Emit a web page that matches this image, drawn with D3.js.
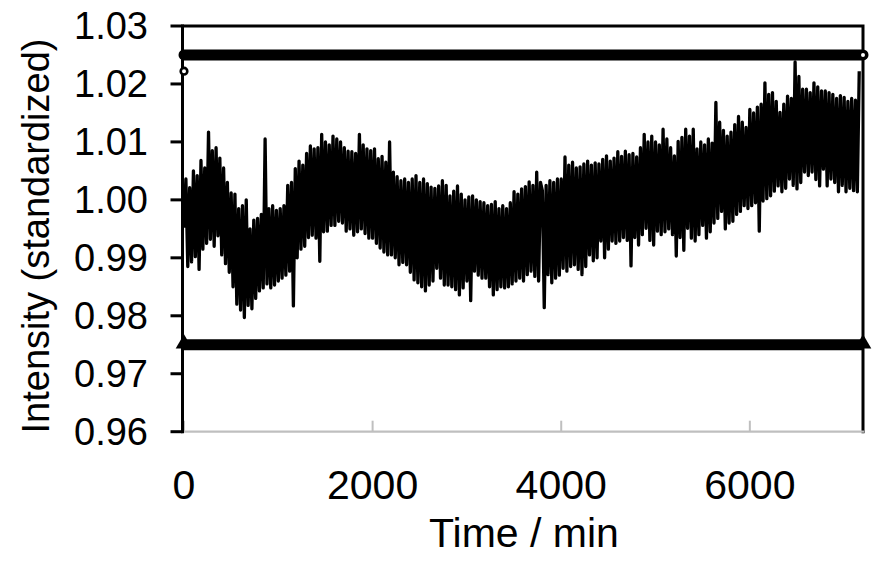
<!DOCTYPE html>
<html>
<head>
<meta charset="utf-8">
<script src="https://cdn.jsdelivr.net/npm/d3@7"></script>
<style>
	body { margin: 0; background: #fff; }
	text { font-family: "Liberation Sans", Arial, sans-serif; fill: #000; }
</style>
</head>
<body>
<svg id="chart" width="882" height="566"></svg>
<script>
// sampling of the trace (minutes)
let stepMin = 20

// standardized intensity, one value per step
let intensity = [
	0.9952, 1.0036, 0.9885, 1.0021, 0.9893, 1.0050, 0.9902, 1.0042, 0.9880, 1.0068,
	0.9915, 1.0055, 0.9925, 1.0117, 0.9932, 1.0085, 0.9920, 1.0090, 0.9938, 1.0072,
	0.9905, 1.0055, 0.9890, 1.0030, 0.9875, 1.0012, 0.9850, 1.0010, 0.9820, 0.9985,
	0.9810, 0.9990, 0.9797, 1.0000, 0.9818, 0.9950, 0.9812, 0.9965, 0.9830, 0.9968,
	0.9843, 0.9975, 0.9848, 1.0105, 0.9855, 0.9985, 0.9848, 0.9990, 0.9853, 0.9982,
	0.9860, 0.9985, 0.9865, 0.9990, 0.9870, 1.0025, 0.9877, 1.0030, 0.9817, 1.0054,
	0.9900, 1.0067, 0.9915, 1.0060, 0.9920, 1.0080, 0.9935, 1.0093, 0.9939, 1.0088,
	0.9934, 1.0090, 0.9894, 1.0113, 0.9945, 1.0100, 0.9946, 1.0095, 0.9956, 1.0110,
	0.9956, 1.0105, 0.9963, 1.0100, 0.9960, 1.0090, 0.9946, 1.0084, 0.9950, 1.0083,
	0.9939, 1.0080, 0.9945, 1.0113, 0.9950, 1.0095, 0.9942, 1.0088, 0.9934, 1.0085,
	0.9934, 1.0088, 0.9925, 1.0071, 0.9917, 1.0075, 0.9910, 1.0065, 0.9905, 1.0100,
	0.9905, 1.0048, 0.9900, 1.0040, 0.9888, 1.0033, 0.9892, 1.0036, 0.9888, 1.0030,
	0.9875, 1.0036, 0.9862, 1.0042, 0.9857, 1.0030, 0.9850, 1.0036, 0.9843, 1.0028,
	0.9853, 1.0022, 0.9860, 1.0020, 0.9882, 1.0024, 0.9865, 1.0033, 0.9853, 1.0025,
	0.9853, 1.0007, 0.9850, 1.0015, 0.9845, 1.0024, 0.9836, 1.0010, 0.9848, 1.0000,
	0.9860, 1.0005, 0.9826, 1.0007, 0.9877, 1.0000, 0.9870, 0.9997, 0.9865, 0.9995,
	0.9865, 0.9990, 0.9850, 0.9992, 0.9836, 0.9997, 0.9845, 0.9985, 0.9850, 0.9990,
	0.9848, 0.9985, 0.9850, 0.9995, 0.9855, 1.0014, 0.9860, 1.0010, 0.9865, 1.0019,
	0.9860, 1.0023, 0.9871, 1.0031, 0.9877, 1.0025, 0.9868, 1.0048, 0.9860, 1.0030,
	1.0016, 0.9814, 1.0025, 0.9871, 1.0033, 0.9857, 1.0030, 0.9865, 1.0036, 0.9870,
	1.0036, 0.9882, 1.0074, 0.9877, 1.0060, 0.9885, 1.0065, 0.9888, 1.0055, 0.9880,
	1.0057, 0.9871, 1.0062, 0.9885, 1.0067, 0.9905, 1.0060, 0.9895, 1.0064, 0.9900,
	1.0062, 0.9929, 1.0070, 0.9900, 1.0076, 0.9915, 1.0067, 0.9929, 1.0072, 0.9925,
	1.0083, 0.9929, 1.0075, 0.9935, 1.0084, 0.9930, 1.0078, 0.9886, 1.0080, 0.9935,
	1.0074, 0.9922, 1.0090, 0.9940, 1.0113, 0.9951, 1.0100, 0.9930, 1.0110, 0.9922,
	1.0100, 0.9946, 1.0095, 0.9940, 1.0122, 0.9945, 1.0105, 0.9950, 1.0090, 0.9940,
	1.0076, 0.9903, 1.0101, 0.9935, 1.0108, 0.9913, 1.0122, 0.9951, 1.0110, 0.9934,
	1.0122, 0.9929, 1.0088, 0.9940, 1.0100, 0.9956, 1.0095, 0.9934, 1.0105, 0.9945,
	1.0098, 0.9960, 1.0168, 0.9968, 1.0134, 0.9980, 1.0120, 0.9950, 1.0110, 0.9960,
	1.0117, 0.9963, 1.0130, 0.9975, 1.0144, 0.9980, 1.0134, 0.9990, 1.0125, 0.9985,
	1.0156, 0.9990, 1.0150, 0.9995, 1.0160, 0.9946, 1.0165, 0.9998, 1.0202, 1.0002,
	1.0182, 1.0007, 1.0185, 1.0015, 1.0170, 1.0024, 1.0151, 1.0014, 1.0165, 1.0020,
	1.0179, 1.0036, 1.0175, 1.0025, 1.0238, 1.0019, 1.0213, 1.0030, 1.0191, 1.0048,
	1.0191, 1.0042, 1.0185, 1.0048, 1.0202, 1.0035, 1.0195, 1.0024, 1.0188, 1.0053,
	1.0188, 1.0024, 1.0185, 1.0036, 1.0182, 1.0030, 1.0175, 1.0014, 1.0180, 1.0025,
	1.0177, 1.0014, 1.0170, 1.0020, 1.0175, 1.0016, 1.0172, 1.0014, 1.0222
]

// control limits
let upperLimit = 1.025
let lowerLimit = 0.975
let limitSpan = [0, 7200]

// stray open markers
let openMarkers = [[0, 1.0222], [7200, 1.025]]

let xTicks = [0, 2000, 4000, 6000]
let yTicks = [0.96, 0.97, 0.98, 0.99, 1.00, 1.01, 1.02, 1.03]

let svg = d3.select("#chart")
let plotLeft = 184, plotRight = 863, plotTop = 26, plotBottom = 431.7
let yFont = 38, xFont = 41

let x = d3.scaleLinear().domain([0, 7200]).range([plotLeft, plotRight])
let y = d3.scaleLinear().domain([0.96, 1.03]).range([plotBottom, plotTop])

// trace
let line = d3.line()
	.x((d, i) => x(i * stepMin))
	.y(d => y(d))
svg.append("path")
	.datum(intensity)
	.attr("d", line)
	.attr("fill", "none")
	.attr("stroke", "#000")
	.attr("stroke-width", 3.3)
	.attr("stroke-linejoin", "round")

// limit bands
svg.append("line")
	.attr("x1", x(limitSpan[0])).attr("x2", x(limitSpan[1]))
	.attr("y1", y(upperLimit)).attr("y2", y(upperLimit))
	.attr("stroke", "#000").attr("stroke-width", 11)
	.attr("stroke-linecap", "round")
svg.append("line")
	.attr("x1", x(limitSpan[0])).attr("x2", x(limitSpan[1]))
	.attr("y1", y(lowerLimit)).attr("y2", y(lowerLimit))
	.attr("stroke", "#000").attr("stroke-width", 11)
svg.selectAll("path.tri")
	.data(limitSpan)
	.join("path")
	.attr("class", "tri")
	.attr("d", d3.symbol(d3.symbolTriangle, 120))
	.attr("transform", d => `translate(${x(d)},${y(lowerLimit) - 1})`)
	.attr("fill", "#000")

// frame: top, right
svg.append("path")
	.attr("d", `M${plotLeft - 1.5},${plotTop}H${plotRight}V${plotBottom + 1.5}`)
	.attr("fill", "none").attr("stroke", "#000").attr("stroke-width", 3)

// x axis (grey, ticks pointing inward)
let xAxis = svg.append("g").attr("transform", `translate(0,${plotBottom})`)
xAxis.append("line")
	.attr("x1", plotLeft).attr("x2", plotRight + 1)
	.attr("stroke", "#bfbfbf").attr("stroke-width", 2.2)
xAxis.selectAll("line.tick")
	.data(xTicks)
	.join("line")
	.attr("class", "tick")
	.attr("x1", d => x(d)).attr("x2", d => x(d))
	.attr("y1", 0).attr("y2", -11)
	.attr("stroke", "#bfbfbf").attr("stroke-width", 2)
svg.selectAll("text.xlab")
	.data(xTicks)
	.join("text")
	.attr("class", "xlab")
	.attr("x", d => x(d))
	.attr("y", 499)
	.attr("text-anchor", "middle")
	.style("font-size", `${xFont}px`)
	.text(d => d)

// y axis
let yAxis = svg.append("g").attr("transform", `translate(${plotLeft - 1.5},0)`)
yAxis.append("line")
	.attr("y1", plotTop - 1.5).attr("y2", plotBottom + 1.5)
	.attr("stroke", "#000").attr("stroke-width", 3)
yAxis.selectAll("line.tick")
	.data(yTicks)
	.join("line")
	.attr("class", "tick")
	.attr("x1", -12).attr("x2", 0)
	.attr("y1", d => y(d)).attr("y2", d => y(d))
	.attr("stroke", "#000").attr("stroke-width", 3)
svg.selectAll("text.ylab")
	.data(yTicks)
	.join("text")
	.attr("class", "ylab")
	.attr("x", 148)
	.attr("y", d => y(d))
	.attr("text-anchor", "end")
	.attr("dominant-baseline", "central")
	.style("font-size", `${yFont}px`)
	.text(d => d3.format(".2f")(d))

// open markers
svg.selectAll("circle.mk")
	.data(openMarkers)
	.join("circle")
	.attr("class", "mk")
	.attr("cx", d => x(d[0]))
	.attr("cy", d => y(d[1]))
	.attr("r", 3.3)
	.attr("fill", "#fff")
	.attr("stroke", "#000")
	.attr("stroke-width", 2.6)

// titles
svg.append("text")
	.attr("x", 524)
	.attr("y", 547)
	.attr("text-anchor", "middle")
	.style("font-size", `${xFont}px`)
	.text("Time / min")
svg.append("text")
	.attr("transform", `translate(49,236) rotate(-90)`)
	.attr("text-anchor", "middle")
	.style("font-size", `${yFont}px`)
	.text("Intensity (standardized)")
</script>
</body>
</html>
